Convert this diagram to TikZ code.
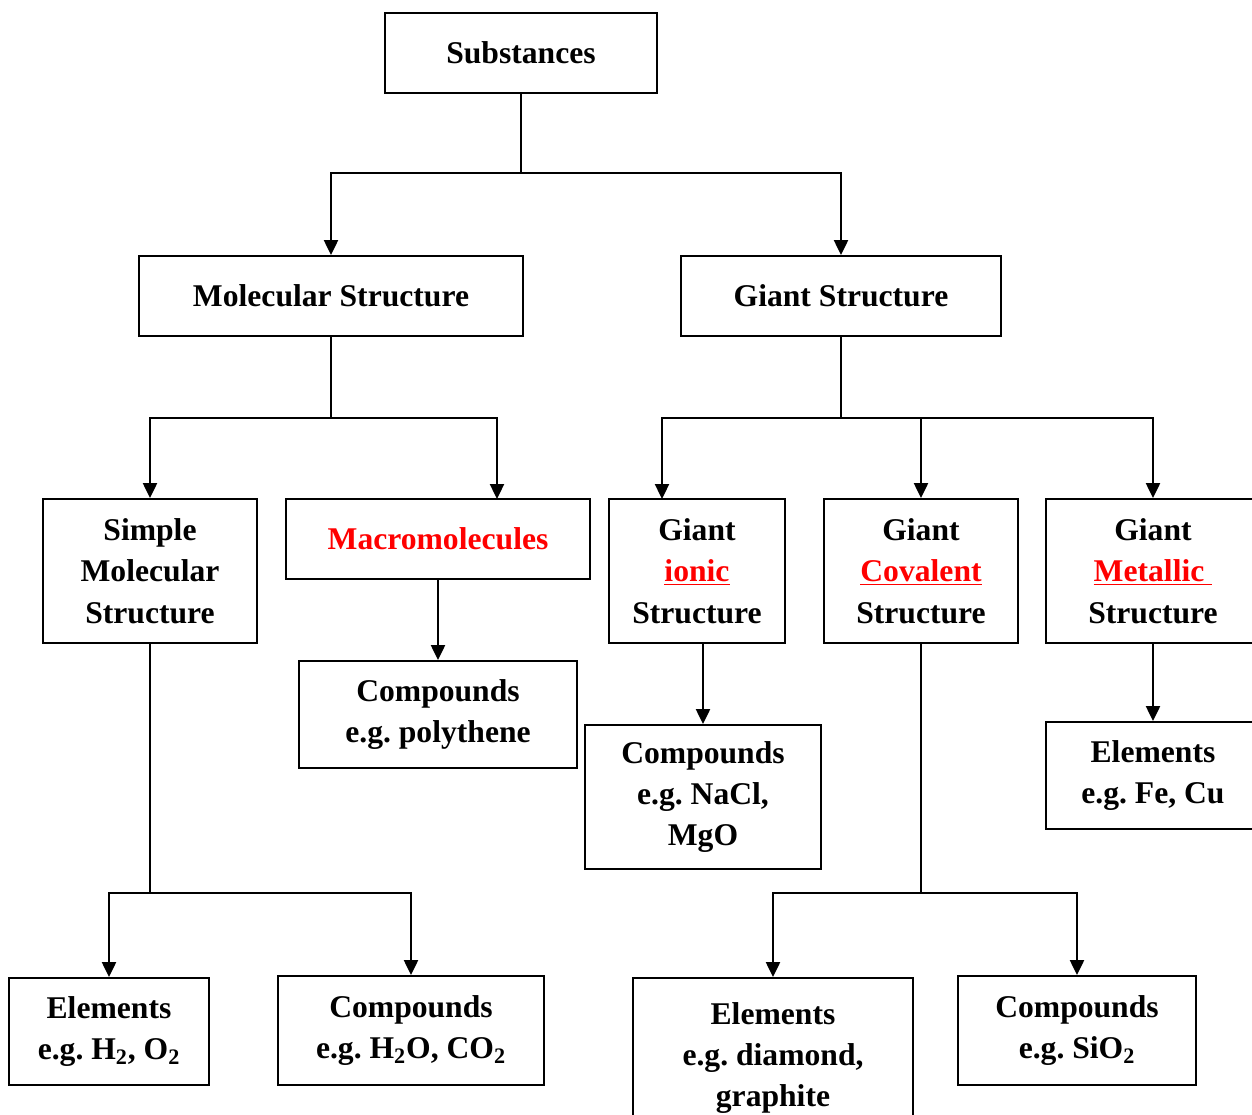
\documentclass[tikz,border=0pt]{standalone}
\usepackage{fontspec}
\setmainfont{Liberation Serif}
\usepackage{xcolor}
\usepackage{tikz}
\usetikzlibrary{arrows.meta}

\begin{document}
\begin{tikzpicture}[
x=0.02cm, y=-0.02cm,
font=\bfseries\fontsize{18}{23.6}\selectfont,
box/.style={draw, line width=1.1pt, align=center, inner sep=0pt},
link/.style={line width=1.1pt},
arr/.style={line width=1.1pt,-{Triangle[length=8.5pt,width=8pt]}}
]
\useasboundingbox (0,0) rectangle (1252,1115);
\clip (0,0) rectangle (1252,1115);

% Top levels
\node[box, minimum width=5.44cm, minimum height=1.6cm] (subst) at (521,53) {Substances};
\node[box, minimum width=7.68cm, minimum height=1.6cm] (molec) at (331,296) {Molecular Structure};
\node[box, minimum width=6.4cm, minimum height=1.6cm] (giant) at (841,296) {Giant Structure};

% Third level
\node[box, minimum width=4.28cm, minimum height=2.88cm] (simple) at (150,571) {Simple\\Molecular\\Structure};
\node[box, minimum width=6.08cm, minimum height=1.6cm] (macro) at (438,539) {\textcolor{red}{Macromolecules}};
\node[box, minimum width=3.52cm, minimum height=2.88cm] (ionic) at (697,571) {Giant\\\textcolor{red}{\underline{ionic}}\\Structure};
\node[box, minimum width=3.88cm, minimum height=2.88cm] (coval) at (921,571) {Giant\\\textcolor{red}{\underline{Covalent}}\\Structure};
\node[box, minimum width=4.28cm, minimum height=2.88cm] (metal) at (1153,571) {Giant\\\textcolor{red}{\underline{Metallic\ }}\\Structure};

% Examples
\node[box, minimum width=5.56cm, minimum height=2.14cm] (poly) at (438,714.5) {Compounds\\e.g.\ polythene};
\node[box, minimum width=4.72cm, minimum height=2.88cm] (nacl) at (703,797) {Compounds\\e.g.\ NaCl,\\MgO};
\node[box, minimum width=4.28cm, minimum height=2.14cm] (fecu) at (1153,775.5) {Elements\\e.g.\ Fe, Cu};
\node[box, minimum width=4cm, minimum height=2.14cm] (htwo) at (109,1031.5) {Elements\\e.g.\ H\textsubscript{2}, O\textsubscript{2}};
\node[box, minimum width=5.32cm, minimum height=2.18cm] (hoco) at (411,1030.5) {Compounds\\e.g.\ H\textsubscript{2}O, CO\textsubscript{2}};
\node[box, minimum width=5.6cm, minimum height=3.2cm] (diam) at (773,1058) {Elements\\e.g.\ diamond,\\graphite};
\node[box, minimum width=4.76cm, minimum height=2.18cm] (sio) at (1077,1030.5) {Compounds\\e.g.\ SiO\textsubscript{2}};

% Junctions
\coordinate (j0) at (521,173);
\coordinate (j1) at (331,418);
\coordinate (j2) at (841,418);
\coordinate (j3) at (150,893);
\coordinate (j4) at (921,893);
\coordinate (macroin) at (497,499);
\coordinate (ionicin) at (662,499);

% Connectors
\draw[link] (subst) -- (j0);
\draw[arr] (j0) -| (molec.north);
\draw[arr] (j0) -| (giant.north);

\draw[link] (molec) -- (j1);
\draw[arr] (j1) -| (simple.north);
\draw[arr] (j1) -| (macroin);

\draw[link] (giant) -- (j2);
\draw[arr] (j2) -| (ionicin);
\draw[arr] (j2) -| (coval.north);
\draw[arr] (j2) -| (metal.north);

\draw[arr] (macro) -- (poly);
\draw[arr] (ionic.south -| nacl.north) -- (nacl.north);
\draw[arr] (metal) -- (fecu);

\draw[link] (simple) -- (j3);
\draw[arr] (j3) -| (htwo.north);
\draw[arr] (j3) -| (hoco.north);

\draw[link] (coval) -- (j4);
\draw[arr] (j4) -| (diam.north);
\draw[arr] (j4) -| (sio.north);
\end{tikzpicture}
\end{document}
